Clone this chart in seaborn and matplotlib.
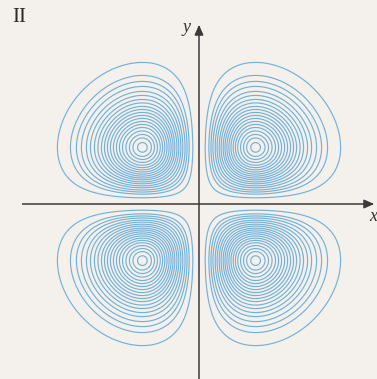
import numpy as np
import matplotlib
matplotlib.use("Agg")
import matplotlib.pyplot as plt
import seaborn as sns

# Contour levels of f(x, y) = |xy| exp(-(x^2 + y^2)), outermost to innermost
levels = [0.0331, 0.0521, 0.0628, 0.0727, 0.0833, 0.0923, 0.1016, 0.1098,
          0.1182, 0.1254, 0.1325, 0.1394, 0.1461, 0.1526, 0.1586, 0.1643,
          0.1701, 0.1751, 0.1791, 0.1826]

# Grid extents (x, y) and resolution
x_range = [-2.6, 2.4]
y_range = [-2.3, 2.6]
n_grid = 901

panel_label = "II"
x_label = "x"
y_label = "y"

line_color = "#74b1da"
axis_color = "#3a3a3a"
paper = "#f4f1ec"

sns.set_theme(style="white")
plt.rcParams["font.family"] = ["Liberation Serif", "DejaVu Serif"]

xs = np.linspace(x_range[0], x_range[1], n_grid)
ys = np.linspace(y_range[0], y_range[1], n_grid)
X, Y = np.meshgrid(xs, ys)
Z = np.abs(X * Y) * np.exp(-(X ** 2 + Y ** 2))

fig = plt.figure(figsize=(3.77, 3.79), dpi=100, facecolor=paper)
ax = fig.add_axes([0, 0, 1, 1])
ax.set_facecolor(paper)

ax.contour(X, Y, Z, levels=levels, colors=line_color, linewidths=0.85)

# Coordinate axes with arrowheads
px = 80.0  # pixels per unit
x0_px, y0_px = 199, 204
ax.set_xlim(-x0_px / px, (377 - x0_px) / px)
ax.set_ylim(-(379 - y0_px) / px, y0_px / px)
ax.set_axis_off()

xmin_ax = (22 - x0_px) / px
xmax_ax = (377 - x0_px) / px
ymax_ax = (y0_px - 22) / px
ymin_ax = -(379 - y0_px) / px

ax.plot([xmin_ax, xmax_ax - 0.05], [0, 0], color=axis_color, lw=1.1,
        solid_capstyle="butt", zorder=3)
ax.plot([0, 0], [ymin_ax, ymax_ax - 0.05], color=axis_color, lw=1.1,
        solid_capstyle="butt", zorder=3)
ax.annotate("", xy=(xmax_ax, 0), xytext=(xmax_ax - 0.12, 0),
            arrowprops=dict(arrowstyle="-|>,head_length=0.5,head_width=0.22",
                            color=axis_color, lw=1.1), zorder=4)
ax.annotate("", xy=(0, ymax_ax), xytext=(0, ymax_ax - 0.12),
            arrowprops=dict(arrowstyle="-|>,head_length=0.5,head_width=0.22",
                            color=axis_color, lw=1.1), zorder=4)

ax.text(-0.11, ymax_ax - 0.07, y_label, style="italic", fontsize=13,
        ha="right", va="center", color="#333333")
ax.text(xmax_ax, -0.16, x_label, style="italic", fontsize=13,
        ha="right", va="center", color="#333333")
fig.text(12 / 377, 1 - 18 / 379, panel_label, fontsize=15, ha="left",
         va="center", color="#2a2a2a")

fig.savefig("out.png", dpi=100, facecolor=paper)
